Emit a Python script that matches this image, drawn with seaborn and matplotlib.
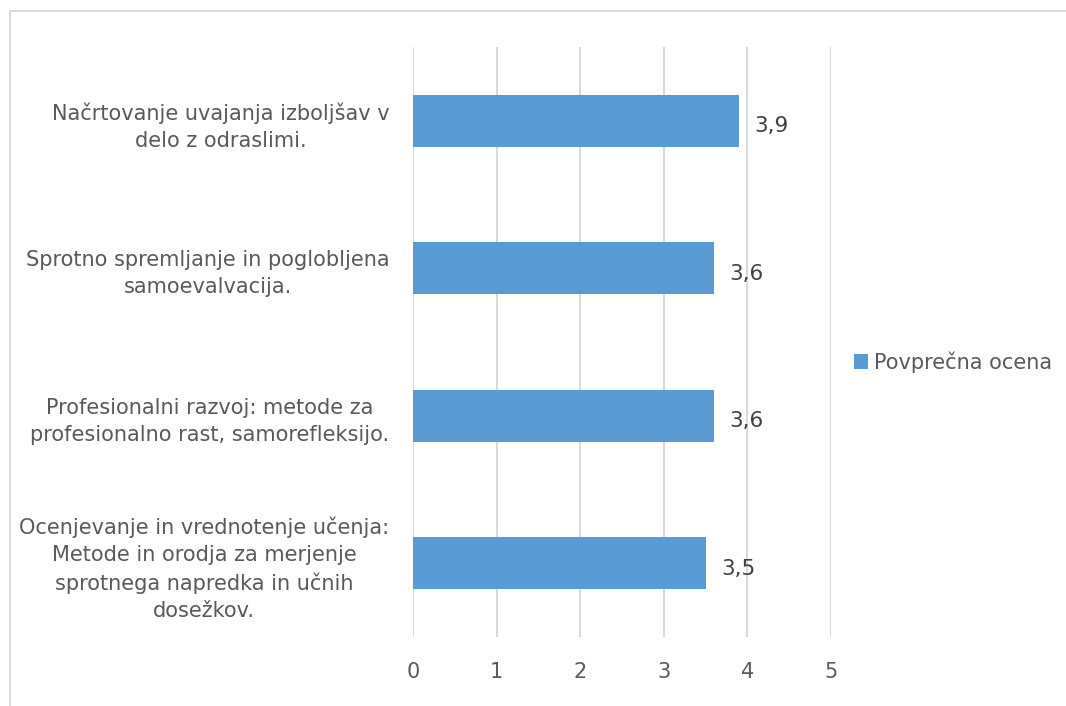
import matplotlib
matplotlib.use("Agg")
import matplotlib.pyplot as plt
import seaborn as sns
import pandas as pd
from matplotlib.patches import Rectangle

# Data (top to bottom as in the chart)
categories = [
    "Načrtovanje uvajanja izboljšav v\ndelo z odraslimi.",
    "Sprotno spremljanje in poglobljena\nsamoevalvacija.",
    "Profesionalni razvoj: metode za\nprofesionalno rast, samorefleksijo.",
    "Ocenjevanje in vrednotenje učenja:\nMetode in orodja za merjenje\nsprotnega napredka in učnih\ndosežkov.",
]
values = [3.9, 3.6, 3.6, 3.5]
value_labels = ["3,9", "3,6", "3,6", "3,5"]
series_name = "Povprečna ocena"
x_ticks = [0, 1, 2, 3, 4, 5]

BAR_COLOR = "#5B9BD5"
GRID_COLOR = "#D9D9D9"
TEXT_COLOR = "#595959"
FS = 15

sns.set_theme(style="white")
plt.rcParams['font.family'] = ['DejaVu Sans']

fig = plt.figure(figsize=(10.66, 7.06), dpi=100)
ax = fig.add_axes([413 / 1066, 1 - 637 / 706, 418 / 1066, 590 / 706])

df = pd.DataFrame({"Kategorija": categories, "Ocena": values, "Serija": series_name})
sns.barplot(data=df, y="Kategorija", x="Ocena", hue="Serija",
            palette=[BAR_COLOR], saturation=1, width=0.35, linewidth=0, ax=ax)

ax.set_xlim(0, 5)
ax.set_xticks(x_ticks)
ax.set_xticklabels([str(t) for t in x_ticks])
ax.set_xlabel("")
ax.set_ylabel("")
ax.xaxis.grid(True, color=GRID_COLOR, linewidth=1.4)
ax.yaxis.grid(False)
ax.set_axisbelow(True)
for s in ax.spines.values():
    s.set_visible(False)

ax.tick_params(axis="x", length=0, pad=18, labelsize=FS, labelcolor=TEXT_COLOR)
ax.tick_params(axis="y", length=0, pad=17, labelsize=FS, labelcolor=TEXT_COLOR)
for lbl in ax.get_yticklabels():
    lbl.set_multialignment("center")
    lbl.set_linespacing(1.45)

# Value labels (Excel puts them a touch below the bar centre)
for cont in ax.containers:
    texts = ax.bar_label(cont, labels=value_labels, padding=11, fontsize=15.5, color="#404040")
    for t in texts:
        t.xyann = (11, -4)

# Legend on the right
handles, labels = ax.get_legend_handles_labels()
if ax.get_legend() is not None:
    ax.get_legend().remove()
fig.legend(handles, labels, loc="center left", bbox_to_anchor=(835 / 1066, 1 - 362 / 706),
           frameon=False, fontsize=FS, handlelength=0.67, handleheight=0.67,
           handletextpad=0.3, labelcolor=TEXT_COLOR)

# Chart area border
fig.patches.append(Rectangle((10 / 1066, -0.1), 1.2, (1 - 11 / 706) + 0.1,
                             transform=fig.transFigure, fill=False,
                             edgecolor=GRID_COLOR, linewidth=1.4))

fig.savefig("out.png", dpi=100)
